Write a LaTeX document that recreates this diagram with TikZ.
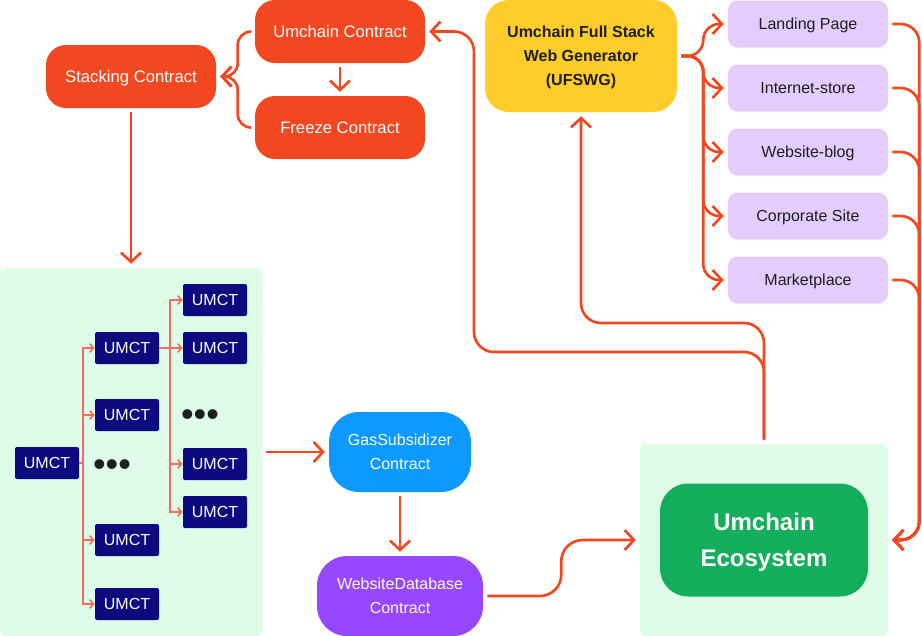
\documentclass[tikz,border=0pt]{standalone}
\usepackage{fontspec}
\setmainfont{Liberation Sans}
\usetikzlibrary{arrows.meta}
\usetikzlibrary{calc}

\definecolor{umred}{HTML}{F24822}
\definecolor{twigred}{HTML}{F36B5D}
\definecolor{umyellow}{HTML}{FFCD29}
\definecolor{umblue}{HTML}{0D99FF}
\definecolor{umviolet}{HTML}{9747FF}
\definecolor{umlilac}{HTML}{E4CCFF}
\definecolor{umgreen}{HTML}{14AE5C}
\definecolor{panelgreen}{HTML}{DFFCE9}
\definecolor{umnavy}{HTML}{0B0A7E}
\definecolor{umink}{HTML}{1E1E1E}

\begin{document}
\begin{tikzpicture}[x=0.75pt,y=-0.75pt,
  flow/.style={draw=umred, line width=2pt, -{Straight Barb[length=7pt,width=15pt]}, shorten >=3pt, shorten <=3pt},
  twig/.style={draw=twigred, line width=1.2pt, -{Straight Barb[length=3pt,width=6.5pt]}},
  card/.style={rounded corners=#1, inner sep=0pt, align=center, font=\fontsize{12}{18}\selectfont, text height=8.6pt, text depth=0pt},
  contract/.style={card=15pt, fill=umred, text=white, minimum width=127.5pt, minimum height=47.25pt, font=\fontsize{12.5}{18}\selectfont, text height=9pt},
  site/.style={card=7.5pt, fill=umlilac, text=umink, minimum width=120pt, minimum height=35.25pt},
  token/.style={card=1.5pt, fill=umnavy, text=white, minimum width=48pt, minimum height=24pt},
  dots/.style={inner sep=0pt, text=umink, font=\fontsize{27}{27}\selectfont},
  panel/.style={fill=panelgreen, rounded corners=4.5pt, inner sep=0pt}]
\useasboundingbox (0,0) rectangle (922,636);

% green areas
\node[panel, minimum width=196.5pt, minimum height=276pt] (lpanel) at (131,452) {};
\node[panel, minimum width=186pt, minimum height=144pt] (rpanel) at (764,540) {};

% contracts
\node[contract] (umc) at (340,31.5) {Umchain Contract};
\node[contract] (stk) at (131,76.5) {Stacking Contract};
\node[contract] (frz) at (340,127.5) {Freeze Contract};
\node[card=22.5pt, fill=umblue, text=white, minimum width=106.5pt, minimum height=60pt, text height=26.6pt] (gas) at (400,452) {GasSubsidizer\\Contract};
\node[card=22.5pt, fill=umviolet, text=white, minimum width=124.5pt, minimum height=60pt, text height=26.6pt] (wdb) at (400,596) {WebsiteDatabase\\Contract};

% generator and sites
\node[card=18pt, fill=umyellow, text=umink, font=\fontsize{12}{18}\selectfont\bfseries, minimum width=144pt, minimum height=84pt, text height=44.6pt] (ufs) at (581,56) {Umchain Full Stack\\Web Generator\\(UFSWG)};
\foreach \n/\y/\t in {lp/24/Landing Page, is/88/Internet-store, wb/152/Website-blog, cs/216/Corporate Site, mp/280/Marketplace}
  \node[site] (\n) at (808,\y) {\t};

\node[card=21pt, fill=umgreen, text=white, font=\fontsize{18}{27}\selectfont\bfseries, minimum width=156pt, minimum height=84.75pt, text height=39.9pt] (eco) at (764,540) {Umchain\\Ecosystem};

% token tree
\node[token] (t0) at (47,463) {UMCT};
\foreach \n/\y in {a/348, b/415, c/540, d/604}
  \node[token] (t\n) at (127,\y) {UMCT};
\foreach \n/\y in {e/300, f/348, g/464, h/512}
  \node[token] (t\n) at (215,\y) {UMCT};
\node[dots] (dl) at (112,468) {•••};
\node[dots] (dr) at (200,418) {•••};

\foreach \n in {a,b,c,d}
  \draw[twig] (t0.east) -- ++(4,0) |- (t\n.west);
\foreach \n in {e,f,g,h}
  \draw[twig] (ta.east) -- ++(11,0) |- (t\n.west);

% flows
\draw[flow] (umc) -- (frz);
\draw[flow, rounded corners=10pt] (umc.west) -- ++(-17,0) |- (stk.east);
\draw[flow, rounded corners=10pt] (frz.west) -- ++(-17,0) |- (stk.east);
\draw[flow] (stk) -- (stk |- lpanel.north);
\draw[flow] (lpanel.east) -- (gas.west);
\draw[flow] (gas) -- (wdb);
\draw[flow, rounded corners=16pt] (wdb.east) -- ++(78,0) |- (rpanel.west);
\draw[flow, rounded corners=15pt] (rpanel.north) |- (474,352) |- (umc.east);
\draw[flow, rounded corners=15pt] (rpanel.north) |- (ufs.south |- 0,323) -- (ufs.south);
\foreach \n in {lp,is,wb,cs,mp}
  \draw[flow, rounded corners=12pt] (ufs.east) -- ++(26,0) |- (\n.west);
\foreach \n in {lp,is,wb,cs,mp}
  \draw[flow, rounded corners=14pt] (\n.east) -- ++(31,0) |- (rpanel.east);
\end{tikzpicture}
\end{document}
